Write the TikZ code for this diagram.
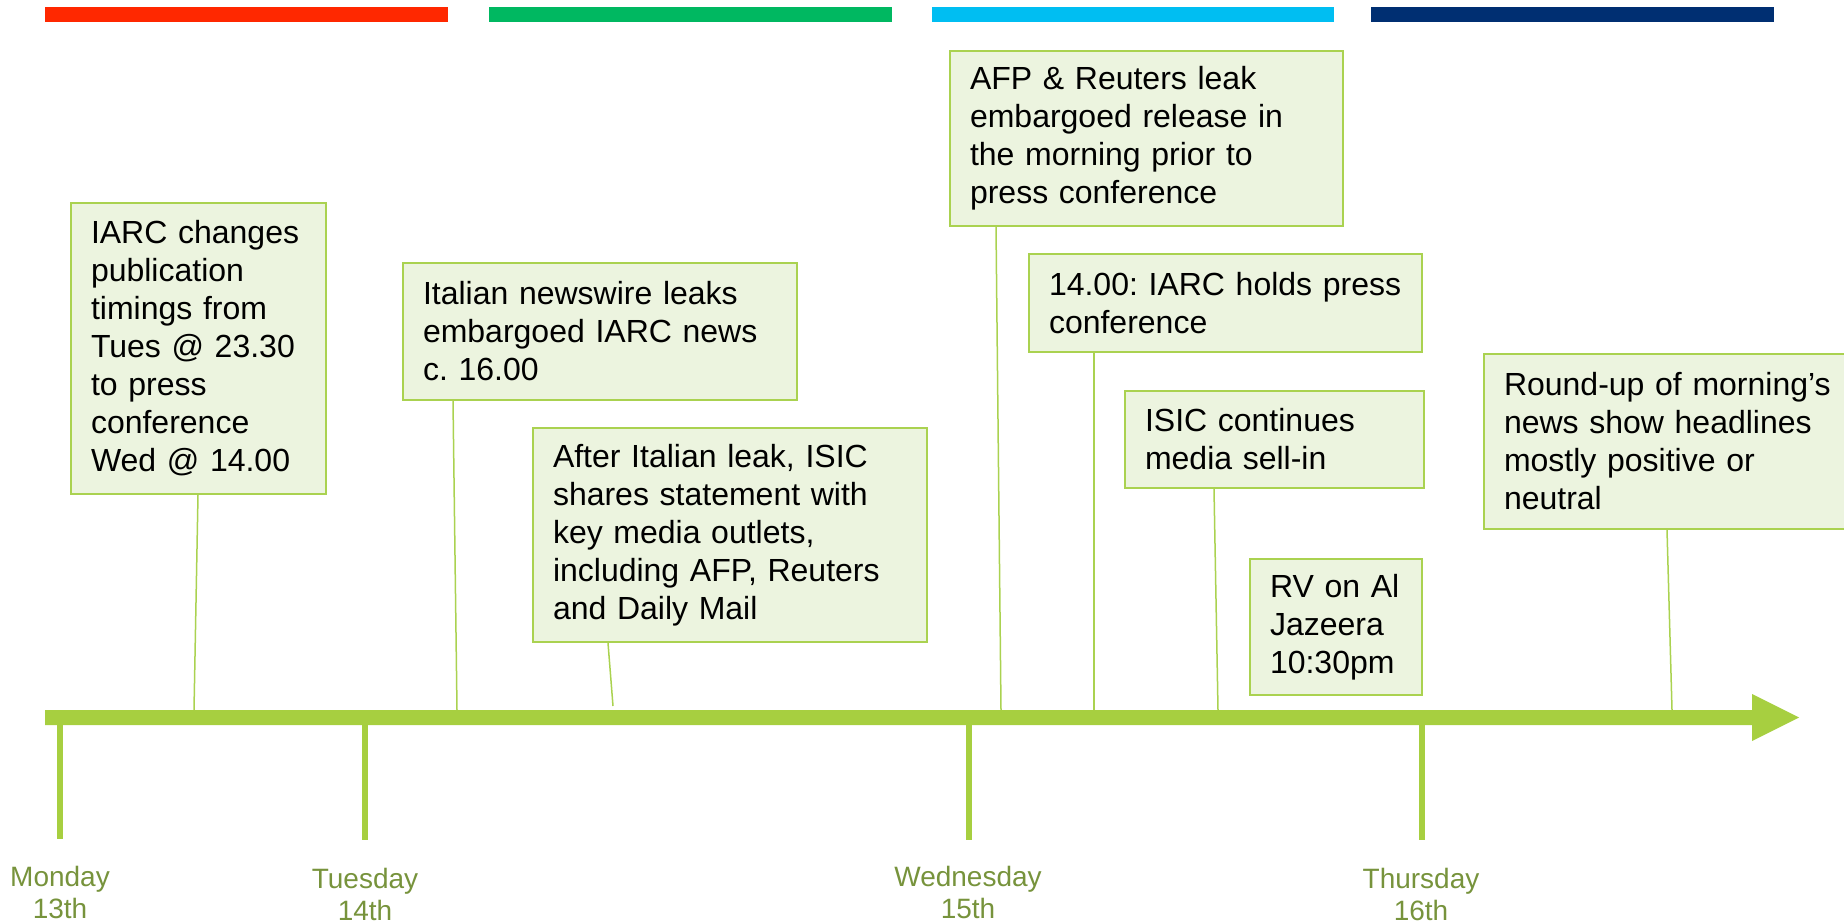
\documentclass[tikz,border=0pt]{standalone}
\usepackage{fontspec}
\setmainfont{Liberation Sans}
\frenchspacing
\definecolor{barred}{RGB}{255,40,0}
\definecolor{bargreen}{RGB}{0,184,97}
\definecolor{barcyan}{RGB}{0,190,242}
\definecolor{barnavy}{RGB}{0,47,114}
\definecolor{axisgreen}{RGB}{167,207,64}
\definecolor{boxline}{RGB}{170,210,80}
\definecolor{boxfill}{RGB}{236,244,223}
\definecolor{daytext}{RGB}{119,147,60}
\tikzset{
  evbox/.style={draw=boxline, line width=2pt, fill=boxfill, anchor=north west,
    inner xsep=20pt, inner ysep=0pt, align=left,
    font=\fontsize{32}{38}\selectfont\frenchspacing, text=black},
  conn/.style={draw=boxline, line width=1.5pt},
  tickline/.style={draw=axisgreen, line width=6pt},
  daylabel/.style={align=center, text=daytext, font=\fontsize{28}{32}\selectfont, inner sep=0pt}
}
\begin{document}
\begin{tikzpicture}[x=1pt,y=-1pt]
\useasboundingbox (0,0) rectangle (1844,923);
% top colour bars
\fill[barred]   (45,7) rectangle (448,22);
\fill[bargreen] (489,7) rectangle (892,22);
\fill[barcyan]  (932,7) rectangle (1334,22);
\fill[barnavy]  (1371,7) rectangle (1774,22);
% axis arrow
\fill[axisgreen] (45,710) -- (1752,710) -- (1752,694) -- (1799,717.5) -- (1752,741) -- (1752,725) -- (45,725) -- cycle;
% ticks
\draw[tickline] (60,725) -- (60,839);
\draw[tickline] (365,725) -- (365,840);
\draw[tickline] (969,725) -- (969,840);
\draw[tickline] (1422,725) -- (1422,840);
% day labels
\node[daylabel] (mon) at (60,892) {Monday\\13th};
\node[daylabel] (tue) at (365,894) {Tuesday\\14th};
\node[daylabel] (wed) at (968,892) {Wednesday\\15th};
\node[daylabel] (thu) at (1421,894) {Thursday\\16th};
% axis coordinates
\coordinate (a1) at (194,710);
\coordinate (a2) at (457,710);
\coordinate (a3) at (613,706);
\coordinate (a4) at (1001,710);
\coordinate (a5) at (1094,710);
\coordinate (a6) at (1218,710);
\coordinate (a8) at (1672,710);
% event boxes
\node[evbox, minimum width=255pt, text width=215pt, minimum height=291pt] (b1) at (70,202)
  {IARC changes\\publication\\timings from\\Tues @ 23.30\\to press\\conference\\Wed @ 14.00};
\node[evbox, minimum width=394pt, text width=354pt, minimum height=137pt] (b2) at (402,262)
  {Italian newswire leaks\\embargoed IARC news\\c. 16.00};
\node[evbox, minimum width=394pt, text width=354pt, minimum height=214pt] (b3) at (532,427)
  {After Italian leak, ISIC\\shares statement with\\key media outlets,\\including AFP, Reuters\\and Daily Mail};
\node[evbox, minimum width=393pt, text width=353pt, minimum height=175pt] (b4) at (949,50)
  {AFP \& Reuters leak\\embargoed release in\\the morning prior to\\press conference};
\node[evbox, minimum width=393pt, text width=353pt, minimum height=98pt] (b5) at (1028,253)
  {14.00: IARC holds press\\conference};
\node[evbox, minimum width=299pt, text width=259pt, minimum height=97pt] (b6) at (1124,390)
  {ISIC continues\\media sell-in};
\node[evbox, minimum width=172pt, text width=132pt, minimum height=136pt] (b7) at (1249,558)
  {RV on Al\\Jazeera\\10:30pm};
\node[evbox, minimum width=367pt, text width=327pt, minimum height=175pt] (b8) at (1483,353)
  {Round-up of morning’s\\news show headlines\\mostly positive or\\neutral};
% connectors
\draw[conn] ([xshift=128pt]b1.south west) -- (a1);
\draw[conn] ([xshift=51pt]b2.south west) -- (a2);
\draw[conn] ([xshift=76pt]b3.south west) -- (a3);
\draw[conn] ([xshift=47pt]b4.south west) -- (a4);
\draw[conn] ([xshift=66pt]b5.south west) -- (a5);
\draw[conn] ([xshift=90pt]b6.south west) -- (a6);
\draw[conn] ([xshift=184pt]b8.south west) -- (a8);
\end{tikzpicture}
\end{document}
